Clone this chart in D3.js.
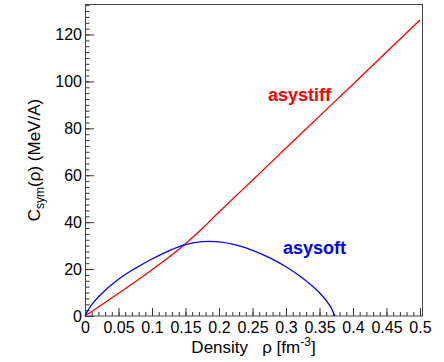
<!DOCTYPE html>
<html>
<head>
<meta charset="utf-8">
<script src="https://cdn.jsdelivr.net/npm/d3@7"></script>
<style>
  body { margin: 0; background: #fff; }
  text { font-family: "Liberation Sans", Arial, sans-serif; }
</style>
</head>
<body>
<svg id="chart" width="444" height="362"></svg>
<script>
// density values (fm^-3) and symmetry energy for both parametrisations
var stiffDensity = [0, 0.025, 0.05, 0.075, 0.1, 0.125, 0.15, 0.175, 0.2, 0.25, 0.3, 0.35, 0.4, 0.45, 0.5];
var stiffCsym = [0, 4.8, 9.7, 14.6, 19.7, 25.0, 30.8, 37.3, 44.3, 57.9, 71.6, 85.2, 98.8, 112.5, 126.2];

var softDensity = [0, 0.01, 0.025, 0.05, 0.075, 0.1, 0.125, 0.15, 0.175, 0.2, 0.225, 0.25, 0.275, 0.3, 0.325, 0.35, 0.365, 0.373];
var softCsym = [0, 4.8, 9.6, 15.7, 20.3, 24.3, 27.8, 30.4, 31.7, 31.6, 30.3, 28.0, 24.9, 21.0, 16.1, 9.9, 4.6, 0];

var xMajor = [0, 0.05, 0.1, 0.15, 0.2, 0.25, 0.3, 0.35, 0.4, 0.45, 0.5];
var yMajor = [0, 20, 40, 60, 80, 100, 120];

var svg = d3.select('#chart'),
    margin = { top: 4, right: 22, bottom: 46, left: 85 },
    width = 444 - margin.left - margin.right,
    height = 362 - margin.top - margin.bottom;

var g = svg.append('g').attr('transform', 'translate(' + margin.left + ',' + margin.top + ')');

var x = d3.scaleLinear().domain([0, 0.503]).range([0, width]);
var y = d3.scaleLinear().domain([0, 133]).range([height, 0]);

// minor ticks
var xMinor = d3.range(0, 0.5001, 0.01);
var yMinor = d3.range(0, 132.6, 2.5);

g.append('g')
    .attr('transform', 'translate(0,' + height + ')')
    .call(d3.axisBottom(x).tickValues(xMinor).tickSize(-4).tickFormat(''))
    .call(function (a) { a.select('.domain').remove(); });

g.append('g')
    .call(d3.axisLeft(y).tickValues(yMinor).tickSize(-4.5).tickFormat(''))
    .call(function (a) { a.select('.domain').remove(); });

// major ticks with labels
g.append('g')
    .attr('class', 'xaxis')
    .attr('transform', 'translate(0,' + height + ')')
    .call(d3.axisBottom(x).tickValues(xMajor).tickSize(-8).tickPadding(6)
        .tickFormat(function (d) { return d === 0 ? '0' : String(+d.toFixed(2)); }))
    .call(function (a) { a.select('.domain').remove(); });

g.append('g')
    .attr('class', 'yaxis')
    .call(d3.axisLeft(y).tickValues(yMajor).tickSize(-9).tickPadding(3))
    .call(function (a) { a.select('.domain').remove(); });

g.selectAll('.tick line').attr('stroke', '#333');
g.selectAll('.tick text').attr('font-size', '16px').attr('fill', '#000')
    .style('font-family', '"Liberation Sans", Arial, sans-serif');

// frame
g.append('rect')
    .attr('x', 0.5).attr('y', 0.5)
    .attr('width', width).attr('height', height - 0.5)
    .attr('fill', 'none').attr('stroke', '#444');

var line = d3.line()
    .x(function (d) { return x(d[0]); })
    .y(function (d) { return y(d[1]); })
    .curve(d3.curveCatmullRom.alpha(0.5));

g.append('path')
    .datum(d3.zip(stiffDensity, stiffCsym))
    .attr('d', line)
    .attr('fill', 'none').attr('stroke', '#ff0000').attr('stroke-width', 1.3);

g.append('path')
    .datum(d3.zip(softDensity, softCsym))
    .attr('d', line)
    .attr('fill', 'none').attr('stroke', '#0000ff').attr('stroke-width', 1.3);

// curve labels
svg.append('text')
    .attr('x', 268).attr('y', 101)
    .attr('font-size', '18px').attr('font-weight', 'bold').attr('fill', '#ff0000')
    .text('asystiff');

svg.append('text')
    .attr('x', 283).attr('y', 254)
    .attr('font-size', '18px').attr('font-weight', 'bold').attr('fill', '#0000ff')
    .text('asysoft');

// axis titles
var xt = svg.append('text')
    .attr('x', margin.left + width / 2).attr('y', 353)
    .attr('text-anchor', 'middle').attr('font-size', '17px');
xt.append('tspan').text('Density\u00a0\u00a0\u00a0ρ [fm');
xt.append('tspan').attr('dy', -7).attr('font-size', '12px').text('-3');
xt.append('tspan').attr('dy', 7).text(']');

var yt = svg.append('text')
    .attr('transform', 'translate(40,' + (margin.top + height / 2) + ') rotate(-90)')
    .attr('text-anchor', 'middle').attr('font-size', '17px');
yt.append('tspan').text('C');
yt.append('tspan').attr('dy', 4).attr('font-size', '12px').text('sym');
yt.append('tspan').attr('dy', -4).text('(ρ) (MeV/A)');
</script>
</body>
</html>
